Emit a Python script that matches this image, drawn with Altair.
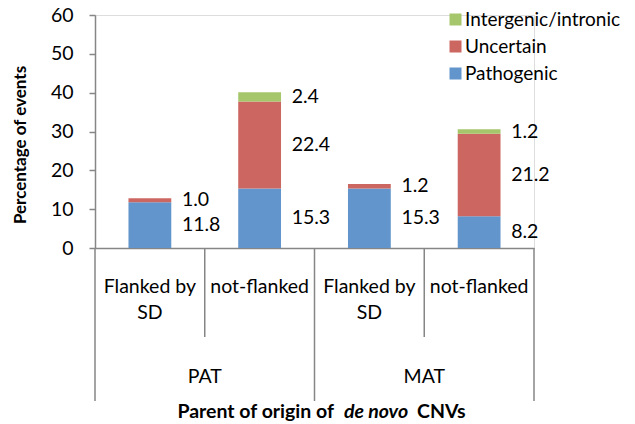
import altair as alt
import pandas as pd

groups = ["PAT", "PAT", "MAT", "MAT"]
subcats = ["Flanked by\nSD", "not-flanked", "Flanked by\nSD", "not-flanked"]
cat_keys = ["PAT|F", "PAT|N", "MAT|F", "MAT|N"]
series = ["Pathogenic", "Uncertain", "Intergenic/intronic"]
pathogenic = [11.8, 15.3, 15.3, 8.2]
uncertain = [1.0, 22.4, 1.2, 21.2]
intergenic = [0.0, 2.4, 0.0, 1.2]
colors = ["#6195CB", "#CC6661", "#A5C66B"]
y_ticks = [0, 10, 20, 30, 40, 50, 60]

FONT = "Lato"
FS = 19.5
W, H = 439, 233
TOP = 7

rows = []
for i, k in enumerate(cat_keys):
    base = 0.0
    for j, (s, vals) in enumerate(zip(series, [pathogenic, uncertain, intergenic])):
        v = vals[i]
        if v > 0:
            rows.append({"cat": k, "series": s, "order": j, "v0": base, "v1": base + v,
                         "mid": base + v / 2, "label": f"{v:.1f}"})
        base += v
df = pd.DataFrame(rows)

cats_df = pd.DataFrame({"cat": cat_keys, "group": groups, "sub": subcats,
                        "first": [i == 0 or groups[i] != groups[i - 1] for i in range(4)]})
group_df = pd.DataFrame({"group": ["PAT", "MAT"],
                         "a": [cat_keys[0], cat_keys[2]], "b": [cat_keys[1], cat_keys[3]]})

xscale = alt.Scale(domain=cat_keys, paddingInner=0, paddingOuter=0)
yscale = alt.Scale(domain=[0, 60], nice=False)

x_axis = alt.Axis(labels=False, ticks=False, title=None, domainColor="#868686", domainWidth=1.5)
y_axis = alt.Axis(values=y_ticks, grid=False, domainColor="#868686",
                  domainWidth=1.5, tickColor="#868686", tickSize=6, tickWidth=1.5,
                  labelOverlap=False, labelFont=FONT, labelFontSize=FS,
                  labelColor="black", labelPadding=16,
                  title="Percentage of events", titleFont=FONT, titleFontSize=17,
                  titleFontWeight="bold", titleColor="black", titleAngle=-90,
                  titleBaseline="middle", titleAlign="center", titleX=-75,
                  titleY=H / 2 + 13)

bars = alt.Chart(df).mark_bar(width=alt.RelativeBandSize(0.39)).encode(
    x=alt.X("cat:N", scale=xscale, axis=x_axis),
    y=alt.Y("v0:Q", scale=yscale, axis=y_axis, title="Percentage of events"),
    y2="v1:Q",
    color=alt.Color("series:N",
                    scale=alt.Scale(domain=series[::-1], range=colors[::-1]),
                    legend=alt.Legend(title=None, orient="none", legendX=351, legendY=-5,
                                      symbolType="square", symbolSize=144, symbolStrokeWidth=0,
                                      labelFont=FONT, labelFontSize=19, labelColor="black",
                                      labelOffset=0, rowPadding=7, labelLimit=300)),
    order=alt.Order("order:Q"),
)

labels = alt.Chart(df).mark_text(align="left", baseline="middle", dx=32,
                                 font=FONT, fontSize=FS, color="black").encode(
    x=alt.X("cat:N", scale=xscale, axis=x_axis),
    y=alt.Y("mid:Q", scale=yscale, axis=y_axis, title="Percentage of events"),
    text="label:N",
)

sub_text = alt.Chart(cats_df).mark_text(align="center", baseline="alphabetic", lineBreak="\n",
                                        lineHeight=26, font=FONT, fontSize=FS,
                                        color="black").encode(
    x=alt.X("cat:N", scale=xscale, axis=x_axis),
    y=alt.value(278),
    text="sub:N",
)

group_text = alt.Chart(group_df).mark_text(align="center", baseline="alphabetic", font=FONT,
                                           fontSize=FS, color="black").encode(
    x=alt.X("b:N", scale=xscale, bandPosition=0, axis=x_axis),
    y=alt.value(368),
    text="group:N",
)

short_rules = alt.Chart(cats_df).transform_filter("!datum.first").mark_rule(
    color="#868686", strokeWidth=1.5).encode(
    x=alt.X("cat:N", scale=xscale, bandPosition=0, axis=x_axis),
    y=alt.value(H), y2=alt.value(322),
)
long_rules = alt.Chart(cats_df).transform_filter("datum.first").mark_rule(
    color="#868686", strokeWidth=1.5).encode(
    x=alt.X("cat:N", scale=xscale, bandPosition=0, axis=x_axis),
    y=alt.value(H), y2=alt.value(386),
)
end_rule = alt.Chart(cats_df.tail(1)).mark_rule(color="#868686", strokeWidth=1.5).encode(
    x=alt.X("cat:N", scale=xscale, bandPosition=1, axis=x_axis),
    y=alt.value(H), y2=alt.value(386),
)

title_df = pd.DataFrame({"t": ["Parent of origin of", "de novo", "CNVs"]})
TFS = 19.5
t1 = alt.Chart(title_df.iloc[[0]]).mark_text(align="right", baseline="alphabetic", font=FONT,
                                             fontSize=TFS, fontWeight="bold", color="black").encode(
    x=alt.value(239), y=alt.value(403), text="t:N")
t2 = alt.Chart(title_df.iloc[[1]]).mark_text(align="center", baseline="alphabetic", font=FONT,
                                             fontSize=TFS, fontWeight="bold", fontStyle="italic",
                                             color="black").encode(
    x=alt.value(281), y=alt.value(403), text="t:N")
t3 = alt.Chart(title_df.iloc[[2]]).mark_text(align="left", baseline="alphabetic", font=FONT,
                                             fontSize=TFS, fontWeight="bold", color="black").encode(
    x=alt.value(322), y=alt.value(403), text="t:N")

chart = alt.layer(bars, labels, sub_text, group_text, short_rules, long_rules, end_rule,
                  t1, t2, t3).properties(
    width=W, height=H,
    autosize=alt.AutoSizeParams(type="none"),
    padding={"left": 87, "top": TOP, "right": 93, "bottom": 174},
).configure_view(stroke=None).configure(background="white")

chart.save("out.html", embed_options={"renderer": "svg", "actions": False})
